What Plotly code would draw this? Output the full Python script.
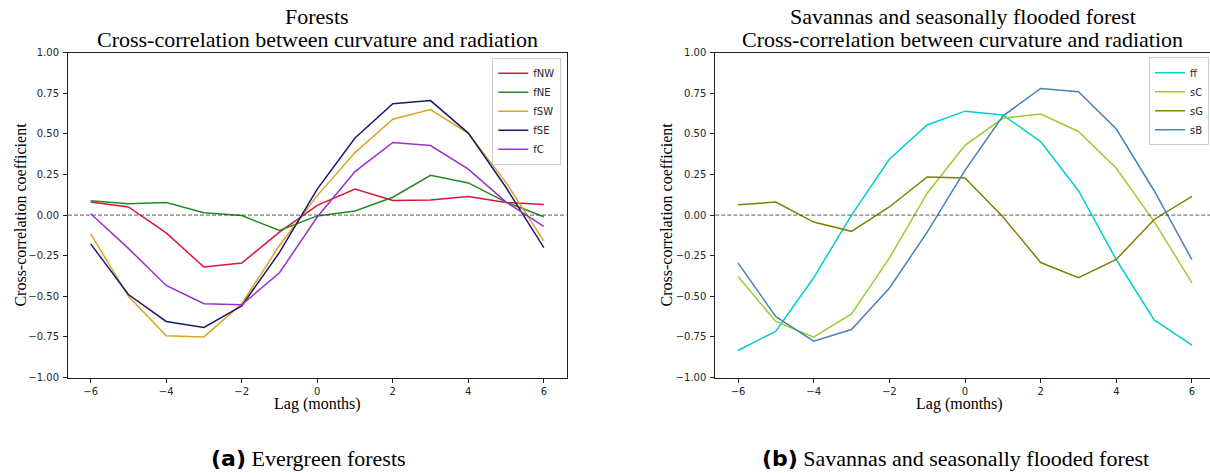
import plotly.graph_objects as go

lags = [-6, -5, -4, -3, -2, -1, 0, 1, 2, 3, 4, 5, 6]

# Forests
fNW = [0.08, 0.05, -0.11, -0.32, -0.295, -0.105, 0.06, 0.16, 0.09, 0.093, 0.115, 0.078, 0.065]
fNE = [0.088, 0.07, 0.078, 0.015, -0.003, -0.095, -0.005, 0.025, 0.11, 0.245, 0.198, 0.08, -0.01]
fSW = [-0.115, -0.50, -0.743, -0.75, -0.546, -0.187, 0.12, 0.385, 0.59, 0.65, 0.504, 0.20, -0.16]
fSE = [-0.177, -0.489, -0.655, -0.692, -0.559, -0.23, 0.16, 0.475, 0.686, 0.705, 0.505, 0.17, -0.20]
fC = [0.008, -0.205, -0.433, -0.546, -0.552, -0.355, -0.012, 0.268, 0.447, 0.428, 0.283, 0.08, -0.07]

# Savannas and seasonally flooded forest
ff = [-0.834, -0.715, -0.386, 0.0, 0.344, 0.555, 0.64, 0.617, 0.453, 0.15, -0.275, -0.645, -0.80]
sC = [-0.378, -0.655, -0.752, -0.608, -0.265, 0.135, 0.43, 0.596, 0.622, 0.515, 0.288, -0.04, -0.417]
sG = [0.064, 0.08, -0.043, -0.10, 0.05, 0.235, 0.228, -0.01, -0.292, -0.386, -0.273, -0.027, 0.115]
sB = [-0.294, -0.625, -0.776, -0.705, -0.45, -0.105, 0.275, 0.61, 0.78, 0.76, 0.53, 0.15, -0.275]

left_names = ["fNW", "fNE", "fSW", "fSE", "fC"]
left_values = [fNW, fNE, fSW, fSE, fC]
left_colors = ["#DC143C", "#228B22", "#DAA520", "#191970", "#9932CC"]
right_names = ["ff", "sC", "sG", "sB"]
right_values = [ff, sC, sG, sB]
right_colors = ["#00CED1", "#9ACD32", "#808000", "#4682B4"]

x_ticks = [-6, -4, -2, 0, 2, 4, 6]
x_ticktext = ["\u22126", "\u22124", "\u22122", "0", "2", "4", "6"]
y_ticks = [-1.0, -0.75, -0.5, -0.25, 0.0, 0.25, 0.5, 0.75, 1.0]
y_ticktext = ["\u22121.00", "\u22120.75", "\u22120.50", "\u22120.25", "0.00", "0.25", "0.50", "0.75", "1.00"]

W, H = 1210, 473


def px(x):
    return x / W


def py(y):
    return 1 - y / H


fig = go.Figure()
for name, vals, col in zip(left_names, left_values, left_colors):
    fig.add_trace(go.Scatter(x=lags, y=vals, mode="lines", name=name,
                             line=dict(color=col, width=1.5), xaxis="x", yaxis="y", legend="legend"))
for name, vals, col in zip(right_names, right_values, right_colors):
    fig.add_trace(go.Scatter(x=lags, y=vals, mode="lines", name=name,
                             line=dict(color=col, width=1.5), xaxis="x2", yaxis="y2", legend="legend2"))

tickfont = dict(family="DejaVu Sans", size=10, color="#262626")
ydom = [py(377.5), py(52.7)]

common_x = dict(showline=True, linecolor="#222", linewidth=1, ticks="outside", ticklen=4,
                tickcolor="#222", tickwidth=1, showgrid=False, zeroline=False,
                tickvals=x_ticks, ticktext=x_ticktext, tickfont=tickfont, mirror=True,
                automargin=False)
common_y = dict(showline=True, linecolor="#222", linewidth=1, ticks="outside", ticklen=4,
                tickcolor="#222", tickwidth=1, showgrid=False, zeroline=False,
                tickvals=y_ticks, ticktext=y_ticktext, tickfont=tickfont, range=[-1, 1],
                domain=ydom, automargin=False, ticklabelstandoff=2)

legfont = dict(family="DejaVu Sans", size=10, color="#262626")
fig.update_layout(
    width=W, height=H, margin=dict(l=0, r=0, t=0, b=0, autoexpand=False),
    paper_bgcolor="white", plot_bgcolor="white",
    xaxis=dict(common_x, domain=[px(68), px(566.5)], range=[-6.6, 6.6], anchor="y"),
    yaxis=dict(common_y, anchor="x", mirror=True),
    xaxis2=dict(common_x, domain=[px(715.3), 1.0], range=[-6.6, 6.476], anchor="y2"),
    yaxis2=dict(common_y, anchor="x2", mirror=False),
    legend=dict(x=px(561.3), y=py(57.7), xanchor="right", yanchor="top", font=legfont,
                itemwidth=30, bgcolor="rgba(255,255,255,0.8)", bordercolor="#cccccc", borderwidth=1),
    legend2=dict(x=px(1209), y=py(57.3), xanchor="right", yanchor="top", font=legfont,
                 itemwidth=30, bgcolor="rgba(255,255,255,0.8)", bordercolor="#cccccc", borderwidth=1),
)

for xr, yr in [("x domain", "y"), ("x2 domain", "y2")]:
    fig.add_shape(type="line", xref=xr, yref=yr, x0=0, x1=1, y0=0, y1=0,
                  line=dict(color="#333", width=0.8, dash="4px,2px"))

serif = "Liberation Serif"
ann = []
for cx, l1 in [(317.25, "Forests"), (962.6, "Savannas and seasonally flooded forest")]:
    ann.append(dict(text=l1, x=px(cx), y=py(16.6), xref="paper", yref="paper",
                    xanchor="center", yanchor="middle", showarrow=False,
                    font=dict(family=serif, size=22, color="black")))
    ann.append(dict(text="Cross-correlation between curvature and radiation", x=px(cx),
                    y=py(39.3), xref="paper", yref="paper", xanchor="center",
                    yanchor="middle", showarrow=False, font=dict(family=serif, size=22, color="black")))
for cx in [317.6, 959.4]:
    ann.append(dict(text="Lag (months)", x=px(cx), y=py(403.6), xref="paper", yref="paper",
                    xanchor="center", yanchor="middle", showarrow=False,
                    font=dict(family=serif, size=16, color="black")))
for cx in [19.6, 665.5]:
    ann.append(dict(text="Cross-correlation coefficient", x=px(cx), y=py(215),
                    xref="paper", yref="paper", xanchor="center", yanchor="middle",
                    textangle=-90, showarrow=False, font=dict(family=serif, size=16, color="black")))
caps = [(308.6, "<span style='font-family:DejaVu Sans'><b>(a)</b></span> Evergreen forests"),
        (955, "<span style='font-family:DejaVu Sans'><b>(b)</b></span> Savannas and seasonally flooded forest")]
for cx, t in caps:
    ann.append(dict(text=t, x=px(cx), y=py(458), xref="paper", yref="paper",
                    xanchor="center", yanchor="middle", showarrow=False,
                    font=dict(family=serif, size=22, color="black")))
fig.update_layout(annotations=ann)

fig.write_html("out.html", config={"displayModeBar": False},
               post_script="document.body.style.margin='0px';")
